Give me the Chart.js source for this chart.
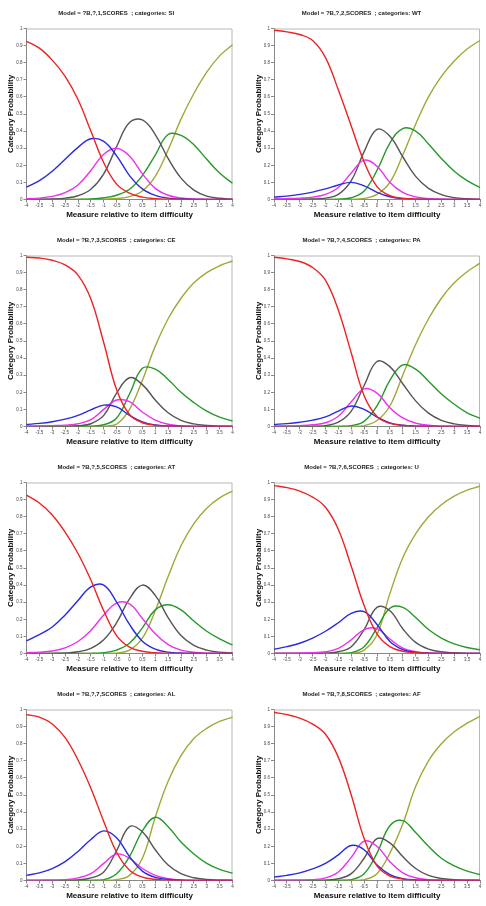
<!DOCTYPE html>
<html><head><meta charset="utf-8">
<script src="https://cdn.jsdelivr.net/npm/chart.js@4.4.1/dist/chart.umd.min.js"></script>
<style>
html,body{margin:0;padding:0;background:#fff;width:486px;height:906px;overflow:hidden;position:relative}
canvas{position:absolute}
</style></head><body>
<script>
// x categories (measure relative to item difficulty)
const xLabels = ['-4','-3.5','-3','-2.5','-2','-1.5','-1','-0.5','0','0.5','1','1.5','2','2.5','3','3.5','4'];
const yTickLabels = ['0','0.1','0.2','0.3','0.4','0.5','0.6','0.7','0.8','0.9','1'];
const itemCodes = ['SI','WT','CE','PA','AT','U','AL','AF'];
const xTitle = 'Measure relative to item difficulty';
const yTitle = 'Category Probability';

// Panel 1: SI
const SI_red   = [0.925,0.885,0.815,0.72,0.585,0.40,0.215,0.09,0.037,0.014,0.005,0.002,0.001,0,0,0,0];
const SI_blue  = [0.072,0.11,0.165,0.235,0.305,0.355,0.34,0.255,0.14,0.062,0.024,0.008,0.003,0.001,0,0,0];
const SI_mag   = [0.004,0.008,0.018,0.04,0.085,0.17,0.265,0.3,0.255,0.15,0.065,0.025,0.009,0.003,0.001,0,0];
const SI_black = [0,0.001,0.003,0.008,0.022,0.06,0.15,0.31,0.45,0.465,0.38,0.24,0.125,0.055,0.02,0.007,0.002];
const SI_green = [0,0,0,0,0.001,0.003,0.01,0.025,0.06,0.14,0.26,0.38,0.375,0.32,0.235,0.155,0.095];
const SI_olive = [0,0,0,0,0,0,0.002,0.006,0.017,0.05,0.135,0.29,0.47,0.62,0.745,0.84,0.905];
// Panel 2: WT
const WT_red   = [0.99,0.98,0.965,0.93,0.83,0.64,0.43,0.22,0.075,0.022,0.007,0.002,0.001,0,0,0,0];
const WT_blue  = [0.014,0.02,0.03,0.043,0.062,0.085,0.1,0.08,0.042,0.016,0.005,0.002,0,0,0,0,0];
const WT_mag   = [0.003,0.005,0.008,0.014,0.03,0.07,0.155,0.23,0.195,0.1,0.042,0.015,0.005,0.002,0,0,0];
const WT_black = [0,0,0.001,0.003,0.008,0.03,0.11,0.28,0.41,0.37,0.25,0.135,0.065,0.028,0.011,0.004,0.001];
const WT_green = [0,0,0,0,0,0.002,0.01,0.05,0.17,0.33,0.415,0.4,0.325,0.24,0.165,0.11,0.07];
const WT_olive = [0,0,0,0,0,0,0.001,0.006,0.03,0.1,0.26,0.44,0.6,0.72,0.81,0.88,0.93];
// Panel 3: CE
const CE_red   = [0.99,0.985,0.972,0.945,0.885,0.745,0.49,0.215,0.07,0.022,0.007,0.002,0.001,0,0,0,0];
const CE_blue  = [0.012,0.018,0.028,0.043,0.065,0.097,0.125,0.115,0.065,0.027,0.009,0.003,0.001,0,0,0,0];
const CE_mag   = [0.002,0.003,0.005,0.008,0.016,0.04,0.1,0.155,0.145,0.085,0.037,0.013,0.004,0.001,0,0,0];
const CE_black = [0,0,0,0.001,0.004,0.016,0.065,0.195,0.285,0.245,0.155,0.08,0.036,0.015,0.006,0.002,0.001];
const CE_green = [0,0,0,0,0,0.002,0.01,0.05,0.19,0.34,0.335,0.275,0.2,0.14,0.09,0.055,0.032];
const CE_olive = [0,0,0,0,0,0,0.002,0.014,0.1,0.27,0.47,0.63,0.75,0.84,0.9,0.94,0.968];
// Panel 4: PA
const PA_red   = [0.99,0.98,0.965,0.93,0.855,0.68,0.43,0.18,0.058,0.018,0.006,0.002,0.001,0,0,0,0];
const PA_blue  = [0.012,0.017,0.025,0.037,0.056,0.09,0.12,0.1,0.055,0.021,0.007,0.002,0.001,0,0,0,0];
const PA_mag   = [0.002,0.003,0.005,0.01,0.022,0.06,0.145,0.22,0.195,0.11,0.05,0.02,0.007,0.002,0.001,0,0];
const PA_black = [0,0,0,0.001,0.005,0.025,0.09,0.24,0.38,0.35,0.25,0.15,0.078,0.036,0.015,0.006,0.002];
const PA_green = [0,0,0,0,0,0.001,0.005,0.03,0.12,0.27,0.36,0.335,0.265,0.19,0.13,0.08,0.048];
const PA_olive = [0,0,0,0,0,0,0,0.005,0.035,0.12,0.3,0.48,0.63,0.75,0.84,0.905,0.955];
// Panel 5: AT
const AT_red   = [0.926,0.88,0.81,0.71,0.585,0.43,0.25,0.105,0.037,0.013,0.004,0.001,0,0,0,0,0];
const AT_blue  = [0.074,0.11,0.155,0.225,0.31,0.39,0.4,0.3,0.17,0.072,0.026,0.008,0.003,0.001,0,0,0];
const AT_mag   = [0.005,0.008,0.015,0.033,0.07,0.135,0.225,0.295,0.29,0.205,0.115,0.052,0.02,0.007,0.002,0.001,0];
const AT_black = [0,0,0.001,0.003,0.01,0.03,0.08,0.18,0.32,0.4,0.34,0.21,0.105,0.048,0.02,0.008,0.003];
const AT_green = [0,0,0,0,0,0.001,0.005,0.02,0.06,0.15,0.255,0.285,0.255,0.19,0.13,0.085,0.05];
const AT_olive = [0,0,0,0,0,0,0,0.003,0.02,0.09,0.25,0.45,0.63,0.76,0.85,0.91,0.95];
// Panel 6: U
const U_red    = [0.982,0.97,0.95,0.915,0.855,0.725,0.51,0.28,0.115,0.04,0.013,0.004,0.001,0,0,0,0];
const U_blue   = [0.025,0.04,0.06,0.09,0.13,0.18,0.235,0.245,0.17,0.07,0.023,0.007,0.002,0,0,0,0];
const U_mag    = [0.001,0.002,0.003,0.005,0.01,0.03,0.08,0.14,0.145,0.085,0.032,0.011,0.003,0.001,0,0,0];
const U_black  = [0,0,0,0,0.002,0.01,0.04,0.14,0.27,0.25,0.145,0.065,0.026,0.01,0.004,0.001,0];
const U_green  = [0,0,0,0,0,0,0.005,0.04,0.15,0.265,0.27,0.21,0.14,0.09,0.056,0.035,0.022];
const U_olive  = [0,0,0,0,0,0,0.001,0.02,0.11,0.35,0.56,0.7,0.8,0.87,0.92,0.955,0.978];
// Panel 7: AL
const AL_red   = [0.97,0.955,0.915,0.835,0.705,0.54,0.345,0.165,0.06,0.02,0.007,0.002,0.001,0,0,0,0];
const AL_blue  = [0.03,0.045,0.07,0.11,0.17,0.24,0.29,0.25,0.14,0.055,0.018,0.006,0.002,0,0,0,0];
const AL_mag   = [0,0.001,0.002,0.005,0.015,0.04,0.1,0.155,0.13,0.07,0.03,0.01,0.003,0.001,0,0,0];
const AL_black = [0,0,0,0.001,0.003,0.015,0.05,0.175,0.315,0.285,0.18,0.09,0.04,0.016,0.006,0.002,0.001];
const AL_green = [0,0,0,0,0,0.001,0.005,0.04,0.14,0.29,0.37,0.315,0.225,0.155,0.1,0.065,0.043];
const AL_olive = [0,0,0,0,0,0,0.001,0.005,0.03,0.13,0.37,0.58,0.73,0.83,0.89,0.93,0.955];
// Panel 8: AF
const AF_red   = [0.984,0.97,0.95,0.915,0.855,0.72,0.5,0.245,0.085,0.026,0.008,0.002,0.001,0,0,0,0];
const AF_blue  = [0.02,0.03,0.045,0.068,0.1,0.15,0.205,0.18,0.09,0.035,0.011,0.003,0.001,0,0,0,0];
const AF_mag   = [0,0.001,0.002,0.005,0.015,0.05,0.135,0.23,0.2,0.11,0.045,0.016,0.005,0.002,0,0,0];
const AF_black = [0,0,0,0,0.002,0.01,0.04,0.13,0.245,0.22,0.14,0.07,0.03,0.012,0.005,0.002,0.001];
const AF_green = [0,0,0,0,0,0.001,0.005,0.04,0.16,0.32,0.35,0.28,0.2,0.13,0.085,0.055,0.035];
const AF_olive = [0,0,0,0,0,0,0,0.005,0.04,0.16,0.33,0.55,0.7,0.8,0.87,0.92,0.96];

const curveColors = ['#ee2222','#2a2ae0','#ee30ee','#555555','#26992a','#a2a838'];

const panelSeries = [
  [SI_red,SI_blue,SI_mag,SI_black,SI_green,SI_olive],
  [WT_red,WT_blue,WT_mag,WT_black,WT_green,WT_olive],
  [CE_red,CE_blue,CE_mag,CE_black,CE_green,CE_olive],
  [PA_red,PA_blue,PA_mag,PA_black,PA_green,PA_olive],
  [AT_red,AT_blue,AT_mag,AT_black,AT_green,AT_olive],
  [U_red,U_blue,U_mag,U_black,U_green,U_olive],
  [AL_red,AL_blue,AL_mag,AL_black,AL_green,AL_olive],
  [AF_red,AF_blue,AF_mag,AF_black,AF_green,AF_olive]
];

Chart.defaults.font.family = '"Liberation Sans", Arial, sans-serif';

const framePlugin = {
  id: 'frame',
  beforeDatasetsDraw(chart) {
    const {ctx, chartArea: a} = chart;
    ctx.save();
    ctx.strokeStyle = '#b8b8b8';
    ctx.lineWidth = 1;
    ctx.beginPath();
    ctx.moveTo(a.left, a.top + 0.5);
    ctx.lineTo(a.right - 0.5, a.top + 0.5);
    ctx.lineTo(a.right - 0.5, a.bottom);
    ctx.stroke();
    ctx.restore();
  }
};

const W = 243, H = 227;
panelSeries.forEach((series, i) => {
  const col = i % 2, row = Math.floor(i / 2);
  const cv = document.createElement('canvas');
  cv.width = W; cv.height = H;
  cv.style.left = (col * W) + 'px';
  cv.style.top = (row * H) + 'px';
  cv.style.width = W + 'px'; cv.style.height = H + 'px';
  document.body.appendChild(cv);
  const yAxisW = col ? 31 : 26.5;
  new Chart(cv, {
    type: 'line',
    data: {
      labels: xLabels,
      datasets: series.map((s, k) => ({
        data: s,
        borderColor: curveColors[k],
        borderWidth: 1.4,
        pointRadius: 0,
        tension: 0.4,
        fill: false
      }))
    },
    plugins: [framePlugin],
    options: {
      responsive: false,
      animation: false,
      devicePixelRatio: 1,
      events: [],
      layout: { padding: { left: 0, right: col ? 6 : 10.5, top: 0, bottom: 0 } },
      plugins: {
        legend: { display: false },
        tooltip: { enabled: false },
        title: {
          display: true,
          text: 'Model = ?B,?,' + (i + 1) + ',SCORES  ; categories: ' + itemCodes[i],
          font: { size: 6, weight: 'bold' },
          color: '#222',
          padding: { top: 9.7, bottom: 11.6 }
        }
      },
      scales: {
        x: {
          type: 'category',
          offset: false,
          grid: { display: true, drawOnChartArea: false, drawTicks: true, tickLength: 3, color: '#888' },
          border: { display: true, color: '#888', width: 1 },
          ticks: { autoSkip: false, maxRotation: 0, minRotation: 0, font: { size: 4.5 }, color: '#444', padding: 1 },
          title: { display: true, text: xTitle, font: { size: 8, weight: 'bold' }, color: '#111', padding: { top: 0, bottom: 7.2 } },
          afterFit(s) { s.height = 27.5; }
        },
        y: {
          min: 0, max: 1,
          grid: { display: true, drawOnChartArea: false, drawTicks: true, tickLength: 3, color: '#888' },
          border: { display: true, color: '#888', width: 1 },
          ticks: { stepSize: 0.1, font: { size: 4.5 }, color: '#444', padding: 1,
                   callback: (v, idx) => yTickLabels[idx] },
          title: { display: true, text: yTitle, font: { size: 8, weight: 'bold' }, color: '#111', padding: { top: col ? 10.9 : 5.9, bottom: 0 } },
          afterFit(s) { s.width = yAxisW; }
        }
      }
    }
  });
});
</script>
</body></html>
